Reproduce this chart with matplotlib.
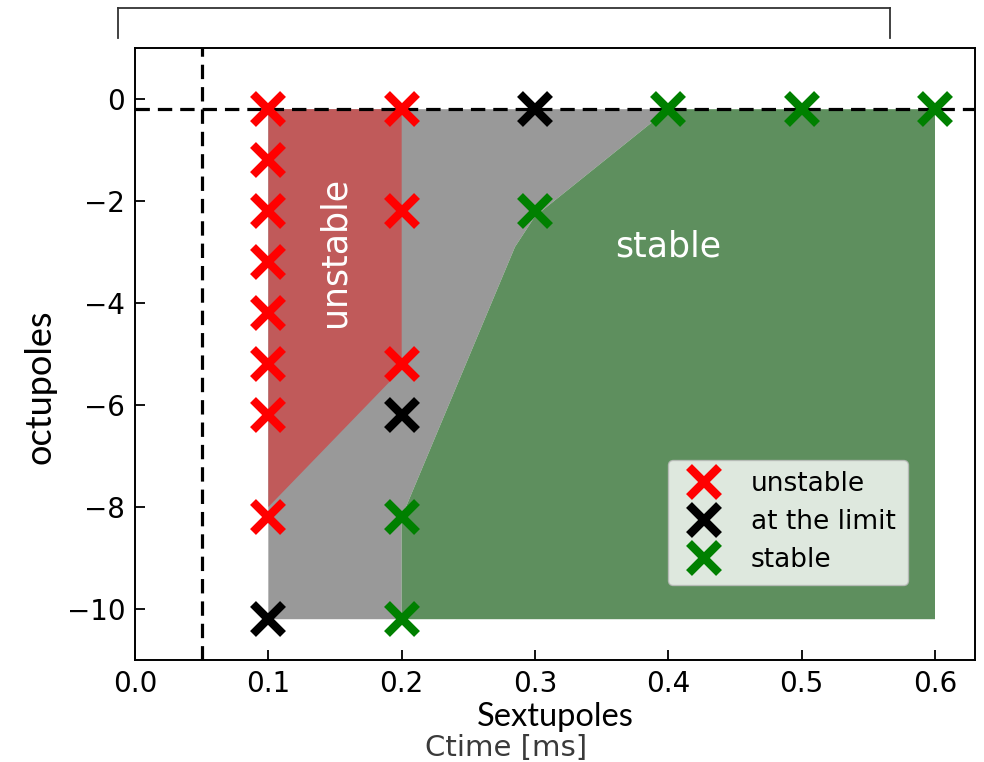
import matplotlib
matplotlib.use("Agg")
import matplotlib.pyplot as plt
from matplotlib.lines import Line2D
from matplotlib.patches import Polygon

# measured points (sextupole time vs octupole setting)
unstable_x = [0.1, 0.1, 0.1, 0.1, 0.1, 0.1, 0.1, 0.1, 0.2, 0.2, 0.2]
unstable_y = [-0.2, -1.2, -2.2, -3.2, -4.2, -5.2, -6.2, -8.2, -0.2, -2.2, -5.2]
limit_x = [0.1, 0.2, 0.3]
limit_y = [-10.2, -6.2, -0.2]
stable_x = [0.2, 0.2, 0.3, 0.4, 0.5, 0.6]
stable_y = [-8.2, -10.2, -2.2, -0.2, -0.2, -0.2]

# shaded regions
red_reg_x = [0.1, 0.2, 0.2, 0.1]
red_reg_y = [-0.2, -0.2, -5.3, -8.0]
grey_reg_x = [0.1, 0.4, 0.3, 0.285, 0.2, 0.2, 0.1]
grey_reg_y = [-0.2, -0.2, -2.3, -2.9, -8.2, -10.2, -10.2]
green_reg_x = [0.4, 0.6, 0.6, 0.2, 0.2, 0.285, 0.3]
green_reg_y = [-0.2, -0.2, -10.2, -10.2, -8.2, -2.9, -2.3]

xticks = [0.0, 0.1, 0.2, 0.3, 0.4, 0.5, 0.6]
yticks = [0, -2, -4, -6, -8, -10]

fig = plt.figure(figsize=(9.84, 7.62), dpi=100)
ax = fig.add_axes([135/984, 1 - 660/762, 840/984, 612/762])

ax.add_patch(Polygon(list(zip(grey_reg_x, grey_reg_y)), closed=True, fc="#999999", ec="none", zorder=1))
ax.add_patch(Polygon(list(zip(red_reg_x, red_reg_y)), closed=True, fc="#c05a5a", ec="none", zorder=1.1))
ax.add_patch(Polygon(list(zip(green_reg_x, green_reg_y)), closed=True, fc="#5e8f5e", ec="none", zorder=1.1))

ax.axhline(-0.2, color="black", ls="--", lw=2.3, dashes=(4.5, 2.5), zorder=2)
ax.axvline(0.05, color="black", ls="--", lw=2.3, dashes=(4.5, 2.5), zorder=2)

mk = dict(marker="x", ls="none", ms=22, mew=6, zorder=3)
ax.plot(unstable_x, unstable_y, color="#ff0000", label="unstable", **mk)
ax.plot(limit_x, limit_y, color="black", label="at the limit", **mk)
ax.plot(stable_x, stable_y, color="#008000", label="stable", **mk)

ax.text(0.15, -3.0, "unstable", color="white", fontsize=25, rotation=90,
        ha="center", va="center", zorder=4)
ax.text(0.4, -2.9, "stable", color="white", fontsize=25,
        ha="center", va="center", zorder=4)

ax.set_xlim(0, 0.63)
ax.set_ylim(-11, 1)
ax.set_xticks(xticks)
ax.set_yticks(yticks)
ax.set_xticklabels(["%.1f" % v for v in xticks])
ax.tick_params(direction="in", length=7, width=1.3, labelsize=20)
ax.tick_params(axis="y", pad=7)
ax.tick_params(axis="x", pad=7)
for s in ax.spines.values():
    s.set_linewidth(1.4)

leg = ax.legend(loc="lower right", bbox_to_anchor=(0.92, 0.1225), borderaxespad=0,
                fontsize=19, labelspacing=0.45, handletextpad=0.9, borderpad=0.45,
                handlelength=1.8, framealpha=0.8, edgecolor="#bbbbbb", fancybox=True)
leg.set_zorder(5)

# x label and the older axis title under it
fig.text(555/984, 1 - 726/762, "Sextupoles", fontsize=23.5, family="Lato",
         ha="center", va="baseline")
fig.text(506/984, 1 - 756/762, "Ctime [ms]", fontsize=21, family="DejaVu Sans",
         color="#3a3a3a", ha="center", va="baseline")
fig.text(40/984, 1 - 387/762, "octupoles", fontsize=26, family="Lato",
         rotation=90, ha="center", va="center")

# leftover box frame above the plot
bx0, bx1 = 118/984, 890/984
by0, by1 = 1 - 38/762, 1 - 8/762
for xs, ys in [([bx0, bx0], [by0, by1]), ([bx0, bx1], [by1, by1]), ([bx1, bx1], [by1, by0])]:
    fig.add_artist(Line2D(xs, ys, color="#333333", lw=1.3))

fig.savefig("out.png", dpi=100)
